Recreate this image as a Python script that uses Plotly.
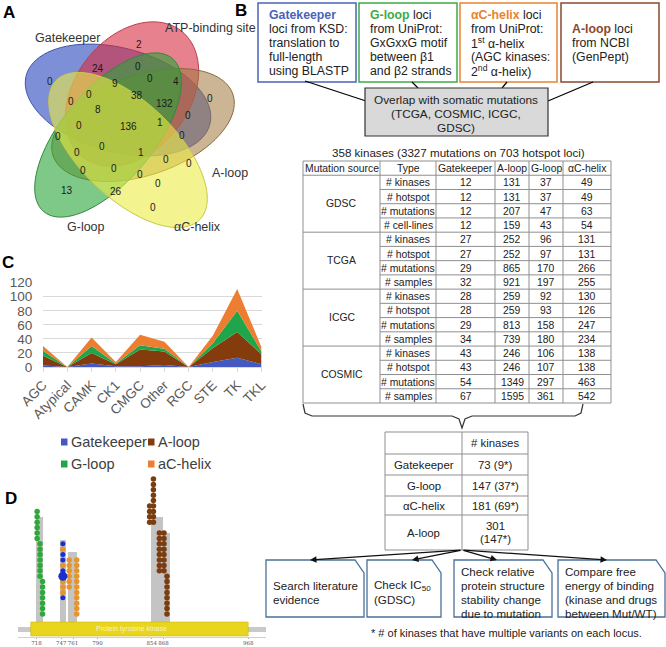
import math
import plotly.graph_objects as go

W, H = 666, 647
FONT = "Liberation Sans, Arial, Helvetica, sans-serif"

# ======================= DATA =======================
# Panel A: five-set Venn diagram
venn_sets = ["Gatekeeper", "ATP-binding site", "A-loop", "G-loop", "αC-helix"]
venn_counts = [2, 24, 0, 0, 0, 4, 9, 38, 0, 0, 0, 132, 8, 0, 136, 1, 0, 0, 0,
               0, 0, 1, 0, 0, 0, 0, 0, 0, 13, 26, 0]

# Panel B: loci definitions
loci_names = ["Gatekeeper", "G-loop", "αC-helix", "A-loop"]
loci_desc = [
    ["loci from KSD:", "translation to", "full-length", "using BLASTP"],
    ["from UniProt:", "GxGxxG motif", "between β1", "and β2 strands"],
    ["from UniProt:", "1<sup>st</sup> α-helix", "(AGC kinases:", "2<sup>nd</sup> α-helix)"],
    ["from NCBI", "(GenPept)"],
]
overlap_text = ["Overlap with somatic mutations", "(TCGA, COSMIC, ICGC,", "GDSC)"]
table_title = "358 kinases (3327 mutations on 703 hotspot loci)"
table_cols = ["Mutation source", "Type", "Gatekeeper", "A-loop", "G-loop", "αC-helix"]
mut_sources = ["GDSC", "TCGA", "ICGC", "COSMIC"]
mut_types = [
    ["# kinases", "# hotspot", "# mutations", "# cell-lines"],
    ["# kinases", "# hotspot", "# mutations", "# samples"],
    ["# kinases", "# hotspot", "# mutations", "# samples"],
    ["# kinases", "# hotspot", "# mutations", "# samples"],
]
gdsc_vals = [[12, 131, 37, 49], [12, 131, 37, 49], [12, 207, 47, 63], [12, 159, 43, 54]]
tcga_vals = [[27, 252, 96, 131], [27, 252, 97, 131], [29, 865, 170, 266], [32, 921, 197, 255]]
icgc_vals = [[28, 259, 92, 130], [28, 259, 93, 126], [29, 813, 158, 247], [34, 739, 180, 234]]
cosmic_vals = [[43, 246, 106, 138], [43, 246, 107, 138], [54, 1349, 297, 463], [67, 1595, 361, 542]]

summary_loci = ["Gatekeeper", "G-loop", "αC-helix", "A-loop"]
summary_kinases = [73, 147, 181, 301]
summary_multi = [9, 37, 69, 147]
action_texts = [
    ["Search literature", "evidence"],
    ["Check IC<sub>50</sub>", "(GDSC)"],
    ["Check relative", "protein structure", "stability change", "due to mutation"],
    ["Compare free", "energy of binding", "(kinase and drugs", "between Mut/WT)"],
]
footnote = "* # of kinases that have multiple variants on each locus."

# Panel C: stacked area by kinase family
families = ["AGC", "Atypical", "CAMK", "CK1", "CMGC", "Other", "RGC", "STE", "TK", "TKL"]
series_names = ["Gatekeeper", "A-loop", "G-loop", "aC-helix"]
gatekeeper = [2, 0, 5, 1, 1, 3, 0, 7, 13, 4]
aloop = [14, 0, 15, 3, 24, 19, 0, 20, 37, 14]
gloop = [7, 0, 10, 1, 6, 4, 0, 7, 30, 4]
achelix = [7, 0, 12, 2, 15, 10, 0, 11, 31, 6]

# Panel D: lollipop plot (residue positions, stack start level, mutation types)
d_ticks = [718, 747, 761, 790, 854, 868, 968]
protein_range = [696, 989]
domain_range = [711, 968]
domain_name = "Protein tyrosine kinase"
stem_res = [721, 748.8, 760, 860, 871.3]
stem_width = [8.3, 7.1, 10.7, 14, 8.2]
stem_top = [18.0, 13.7, 11.5, 18.0, 15.0]
lolli_res = [725, 722, 718.6, 749, 765.4, 756.5, 856, 851.5, 863, 868.5, 872]
lolli_start = [0, 7, 14, 3, 0, 5, 17, 17, 8, 8, 0]
lolli_types = ["GGGGGGG", "GGGGGGG", "GGGGGG", "BOOObBOBBOB", "OOOOOOOOOOO", "OOOOOO",
               "AAAAAAAAA", "AAAA", "AAAAAAAA", "AAAAAAAA", "AAAAAAAA"]

# ======================= HELPERS =======================
def X(p):
    return p / W


def Y(p):
    return 1 - p / H


shapes = []
ann = []


def text(x, y, s, size=12, color="#222222", anchor="center", bold=False, va="middle"):
    if bold:
        s = f"<b>{s}</b>"
    ann.append(dict(x=X(x), y=Y(y), xref="paper", yref="paper", text=s, showarrow=False,
                    font=dict(size=size, color=color, family=FONT), xanchor=anchor,
                    yanchor=va, borderpad=0))


def line(x0, y0, x1, y1, color="#000000", w=1.0):
    shapes.append(dict(type="line", xref="paper", yref="paper", x0=X(x0), y0=Y(y0),
                       x1=X(x1), y1=Y(y1), line=dict(color=color, width=w)))


def rect(x0, y0, x1, y1, lc="#000000", w=1.0, fill="rgba(0,0,0,0)"):
    shapes.append(dict(type="rect", xref="paper", yref="paper", x0=X(x0), y0=Y(y1),
                       x1=X(x1), y1=Y(y0), line=dict(color=lc, width=w), fillcolor=fill))


def poly(pts, lc, w, fill="rgba(0,0,0,0)", closed=True):
    d = "M" + " L".join(f"{X(a):.5f},{Y(b):.5f}" for a, b in pts)
    if closed:
        d += " Z"
    shapes.append(dict(type="path", xref="paper", yref="paper", path=d,
                       line=dict(color=lc, width=w), fillcolor=fill))


def ellipse(cx, cy, a, b, ang, lc, fill, n=90):
    t = math.radians(ang)
    pts = []
    for k in range(n):
        th = 2 * math.pi * k / n
        x = cx + a * math.cos(th) * math.cos(t) - b * math.sin(th) * math.sin(t)
        y = cy + a * math.cos(th) * math.sin(t) + b * math.sin(th) * math.cos(t)
        pts.append((x, y))
    poly(pts, lc, 1.0, fill)


# ======================= PANEL LETTERS =======================
for lab, (lx, ly) in zip("ABCD", [(9, 12), (241, 11), (8, 262), (11, 498)]):
    text(lx, ly, lab, size=17, color="#000000", bold=True)

# ======================= PANEL A: VENN =======================
venn_geom = [(118, 100, 95, 52, 15), (132, 94, 80, 57, -52), (143, 125, 95, 50, -19),
             (108, 135, 100, 46, -50), (128, 150, 100, 48, 44)]
venn_fill = ["rgba(45,75,190,0.62)", "rgba(215,45,65,0.6)", "rgba(160,120,60,0.55)",
             "rgba(40,165,55,0.6)", "rgba(235,235,70,0.6)"]
venn_line = ["#3f55a8", "#b8404c", "#8a6a3a", "#2f8a3a", "#c9c94a"]
for g, f, lc in zip(venn_geom, venn_fill, venn_line):
    ellipse(*g, lc, f)
venn_label_pos = [(67, 38), (210, 28), (230, 173), (86, 227), (197, 227)]
for name, (lx, ly) in zip(venn_sets, venn_label_pos):
    text(lx, ly, name, size=12.5, color="#333333")
venn_pos = [(139, 44), (98, 69), (50, 82), (138, 66), (150, 79), (176, 81), (115, 83),
            (137, 95), (89, 94), (71, 102), (210, 98), (164, 103), (98, 110), (188, 115),
            (128, 127), (160, 122), (79, 126), (182, 135), (58, 136), (77, 152),
            (102, 146), (141, 152), (166, 159), (189, 164), (83, 170), (114, 168),
            (140, 175), (158, 184), (67, 190), (116, 192), (153, 207)]
for c, (vx, vy) in zip(venn_counts, venn_pos):
    text(vx, vy, str(c), size=10, color="#1a1a1a")

# ======================= PANEL B: TOP BOXES =======================
box_x = [(258, 356), (359, 457), (460, 557), (561, 659)]
box_col = ["#4a63b8", "#3fab45", "#e8822f", "#8a4a30"]
line_y = [15, 29, 43, 57, 71]
for i, ((bx0, bx1), col) in enumerate(zip(box_x, box_col)):
    rect(bx0, 3, bx1, 82, lc=col, w=1.5)
    tx = bx0 + 10
    head = f"<span style='color:{col}'><b>{loci_names[i]}</b></span>"
    if i > 0:
        head += " loci"
    lines = [head] + loci_desc[i]
    ys = line_y if i < 3 else line_y[1:]
    for s, yy in zip(lines, ys):
        text(tx, yy, s, size=12.3, color="#222222", anchor="left")

# connectors to grey box
line(305, 81, 366, 101, w=1.2)
line(412, 82, 418, 88, w=1.2)
line(507, 82, 502, 88, w=1.2)
line(593, 82, 548, 101, w=1.2)
rect(365, 88, 548, 136, lc="#333333", w=1.2, fill="#d9d9d9")
for s, yy in zip(overlap_text, [100, 114, 128]):
    text(456.5, yy, s, size=11.8, color="#222222")

# ======================= PANEL B: MAIN TABLE =======================
text(458, 152, table_title, size=11.6, color="#222222")
cols = [303, 380, 436, 495, 529, 563, 611]
top = 161
rh = (403 - 161) / 17
edges = [top + k * rh for k in range(18)]
grid = "#8f8f8f"
rect(cols[0], edges[0], cols[-1], edges[-1], lc=grid, w=1)
for cx in cols[1:-1]:
    line(cx, edges[0], cx, edges[-1], color=grid)
for k in range(1, 17):
    if (k - 1) % 4 == 0:
        line(cols[0], edges[k], cols[-1], edges[k], color=grid)
    else:
        line(cols[1], edges[k], cols[-1], edges[k], color=grid)
TS = 10.4
for j, name in enumerate(table_cols):
    text((cols[j] + cols[j + 1]) / 2, (edges[0] + edges[1]) / 2 + 0.5, name, size=TS)
all_vals = [gdsc_vals, tcga_vals, icgc_vals, cosmic_vals]
for g, (src, types, vals) in enumerate(zip(mut_sources, mut_types, all_vals)):
    r0 = 1 + 4 * g
    text((cols[0] + cols[1]) / 2, (edges[r0] + edges[r0 + 4]) / 2, src, size=TS)
    for r in range(4):
        yy = (edges[r0 + r] + edges[r0 + r + 1]) / 2 + 0.5
        text((cols[1] + cols[2]) / 2, yy, types[r], size=TS)
        for j in range(4):
            text((cols[j + 2] + cols[j + 3]) / 2, yy, str(vals[r][j]), size=TS)

# brace
brace = [(303, 404), (305, 413), (312, 416), (452, 416), (459, 419), (462, 428),
         (465, 419), (472, 416), (575, 416), (581, 413), (583, 404)]
poly(brace, "#333333", 1.2, closed=False)

# ======================= PANEL B: SUMMARY TABLE =======================
scol = [385, 462, 528]
srow = [432, 454, 475, 496, 515, 550]
rect(scol[0], srow[0], scol[-1], srow[-1], lc=grid, w=1)
line(scol[1], srow[0], scol[1], srow[-1], color=grid)
for yy in srow[1:-1]:
    line(scol[0], yy, scol[-1], yy, color=grid)
SS = 11.4
text((scol[1] + scol[2]) / 2, (srow[0] + srow[1]) / 2, "# kinases", size=SS)
for i, (nm, k, m) in enumerate(zip(summary_loci, summary_kinases, summary_multi)):
    ym = (srow[i + 1] + srow[i + 2]) / 2
    text((scol[0] + scol[1]) / 2, ym, nm, size=SS)
    if i < 3:
        text((scol[1] + scol[2]) / 2, ym, f"{k} ({m}*)", size=SS)
    else:
        text((scol[1] + scol[2]) / 2, ym - 6.5, f"{k}", size=SS)
        text((scol[1] + scol[2]) / 2, ym + 6.5, f"({m}*)", size=SS)

# ======================= PANEL B: ACTION BOXES =======================
abox = [(266, 364), (367, 441), (454, 552), (558, 665)]
acol = "#4a7199"
heads = [310, 412, 497, 607]
for hx in heads:
    ann.append(dict(x=X(hx), y=Y(560), xref="paper", yref="paper", ax=462 - hx, ay=550 - 560,
                    axref="pixel", ayref="pixel", showarrow=True, arrowhead=2, arrowsize=1,
                    arrowwidth=1.3, arrowcolor="#111111", text=""))
for (bx0, bx1), lines in zip(abox, action_texts):
    poly([(bx0, 560), (bx1 - 9, 560), (bx1, 573), (bx1, 617), (bx0, 617)], acol, 1.3,
         fill="#ffffff")
    n = len(lines)
    ys = [585, 599] if n == 2 else [571, 585, 599, 613]
    for s, yy in zip(lines, ys):
        text(bx0 + 6, yy, s, size=11.6, color="#222222", anchor="left")
text(370, 633, footnote, size=11, color="#222222", anchor="left")

# ======================= FIGURE & TRACES =======================
fig = go.Figure()
c_colors = ["#4458c2", "#843c0c", "#1fa64b", "#ed7d31"]
for name, vals, col in zip(series_names, [gatekeeper, aloop, gloop, achelix], c_colors):
    fig.add_trace(go.Scatter(x=families, y=vals, name=name, stackgroup="one", mode="none",
                             fillcolor=col, line=dict(width=0), showlegend=False,
                             xaxis="x", yaxis="y"))

# manual legend for panel C
leg_pos = [(61, 442), (148, 442), (61, 464), (148, 464)]
for name, col, (lx, ly) in zip(series_names, c_colors, leg_pos):
    rect(lx, ly - 3.5, lx + 6.5, ly + 3.5, lc=col, w=0, fill=col)
    text(lx + 9, ly, name, size=14.5, color="#404040", anchor="left")

# Panel D: lollipop
def lv(p):
    return (614 - p) / 5.4

stem_base = lv(622)
fig.add_trace(go.Bar(x=stem_res, y=[t - stem_base for t in stem_top], base=stem_base,
                     width=stem_width, marker=dict(color="#c4c4c4", line=dict(width=0)),
                     xaxis="x2", yaxis="y2", showlegend=False))
type_color = {"G": "#2ea83a", "B": "#1a2fd0", "b": "#1a2fd0", "O": "#e6952e", "A": "#7a3d10"}
type_size = {"G": 5.5, "B": 5, "b": 9, "O": 5.5, "A": 5.5}
for code in ["G", "O", "A", "B", "b"]:
    xs, ys = [], []
    for r, s0, types in zip(lolli_res, lolli_start, lolli_types):
        for i, t in enumerate(types):
            if t == code:
                xs.append(r)
                ys.append(s0 + i)
    if xs:
        fig.add_trace(go.Scatter(x=xs, y=ys, mode="markers", showlegend=False,
                                 marker=dict(color=type_color[code], size=type_size[code],
                                             line=dict(width=0)),
                                 xaxis="x2", yaxis="y2"))
shapes.append(dict(type="rect", xref="x2", yref="y2", x0=protein_range[0], x1=protein_range[1],
                   y0=lv(632), y1=lv(627), line=dict(width=0), fillcolor="#c9c9c9"))
shapes.append(dict(type="rect", xref="x2", yref="y2", x0=domain_range[0], x1=domain_range[1],
                   y0=lv(636), y1=lv(622), line=dict(width=0.5, color="#c8b000"),
                   fillcolor="#e8d51e"))
ann.append(dict(x=sum(domain_range) / 2 - 10, y=lv(629), xref="x2", yref="y2",
                text=domain_name, showarrow=False,
                font=dict(size=7, color="#fbf3c4", family=FONT)))

fig.update_layout(
    width=W, height=H, margin=dict(l=0, r=0, t=0, b=0, autoexpand=False),
    paper_bgcolor="white", plot_bgcolor="white",
    font=dict(family=FONT),
    shapes=shapes, annotations=ann, bargap=0,
    xaxis=dict(domain=[X(43), X(261.5)], type="category", range=[0, 9],
               tickangle=-45, tickfont=dict(size=13.5, color="#595959", family=FONT),
               showgrid=False, showline=True, linecolor="#d9d9d9", ticks="outside",
               ticklen=4, tickcolor="#d9d9d9", anchor="y", automargin=False),
    yaxis=dict(domain=[Y(367), Y(282)], range=[0, 121], dtick=20,
               tickfont=dict(size=13.5, color="#595959", family=FONT),
               gridcolor="#d9d9d9", showline=False, zeroline=False, ticks="outside",
               ticklen=7, tickcolor="rgba(0,0,0,0)", anchor="x", automargin=False),
    xaxis2=dict(domain=[X(18), X(266)], range=protein_range, tickvals=d_ticks,
                tickangle=0, tickfont=dict(size=5.5, color="#555555", family="DejaVu Serif"),
                ticks="outside", ticklen=1, tickcolor="#aaaaaa", showline=True,
                linecolor="#d0d0d0", showgrid=False, zeroline=False, anchor="y2",
                automargin=False, ticklabelstandoff=-1),
    yaxis2=dict(domain=[Y(637), Y(470)], range=[lv(637), lv(470)], visible=False,
                anchor="x2", automargin=False),
)

fig.write_html("out.html", config={"displayModeBar": False},
               post_script="document.body.style.margin='0';document.body.style.overflow='hidden';")
